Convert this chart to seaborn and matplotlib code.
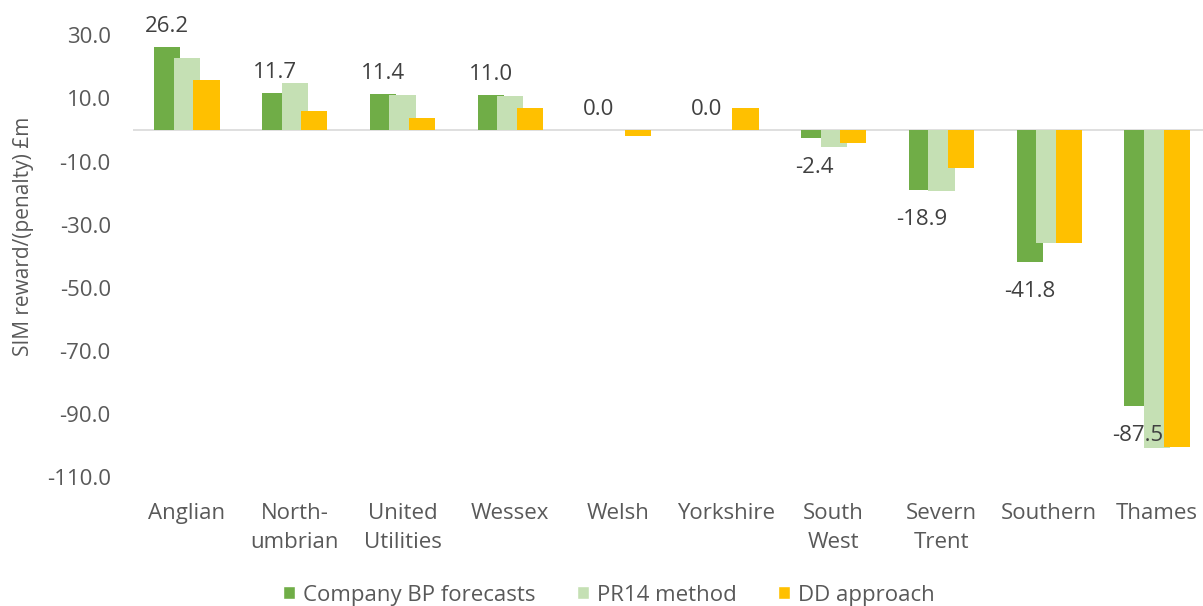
import numpy as np
import pandas as pd
import matplotlib
matplotlib.use("Agg")
import matplotlib.pyplot as plt
import seaborn as sns

# --- data ---
companies = ["Anglian", "North-\numbrian", "United\nUtilities", "Wessex", "Welsh",
             "Yorkshire", "South\nWest", "Severn\nTrent", "Southern", "Thames"]
company_bp = [26.2, 11.7, 11.4, 11.0, 0.0, 0.0, -2.4, -18.9, -41.8, -87.5]
pr14_method = [22.9, 15.0, 11.0, 10.7, 0.0, 0.0, -5.4, -19.5, -35.7, -100.9]
dd_approach = [15.9, 6.0, 3.8, 7.1, -1.8, 7.1, -4.0, -11.9, -35.7, -100.6]
series_names = ["Company BP forecasts", "PR14 method", "DD approach"]
colors = ["#70AD47", "#C5E0B4", "#FFC000"]
y_ticks = np.arange(-110, 31, 20)

df = pd.DataFrame({
    "company": companies * 3,
    "series": np.repeat(series_names, len(companies)),
    "value": company_bp + pr14_method + dd_approach,
})

sns.set_theme(style="white")
plt.rcParams["font.family"] = ["Open Sans", "DejaVu Sans"]
text_grey = "#595959"

fig = plt.figure(figsize=(12.03, 6.06), dpi=100)
ax = fig.add_axes([133 / 1203, 0.2129, 1078 / 1203, 0.7288])

sns.barplot(data=df, x="company", y="value", hue="series", palette=colors,
            saturation=1, width=0.546, ax=ax, errorbar=None)

# Excel-style overlapping bars: widen each bar around its centre
new_w = 0.243
for cont in ax.containers:
    for p in cont.patches:
        cx = p.get_x() + p.get_width() / 2
        p.set_width(new_w)
        p.set_x(cx - new_w / 2)
        p.set_linewidth(0)

ax.set_xlim(-0.5, 9.5)
ax.set_ylim(-110, 30)
ax.set_yticks(y_ticks)
ax.set_yticklabels([f"{v:.1f}" for v in y_ticks])
ax.axhline(0, color="#D9D9D9", lw=1.2, zorder=0)
sns.despine(ax=ax, left=True, bottom=True)
ax.tick_params(axis="both", length=0, labelsize=16, colors=text_grey)
ax.tick_params(axis="y", pad=16)
ax.tick_params(axis="x", pad=19)
for t in ax.get_xticklabels():
    t.set_linespacing(1.5)
ax.set_xlabel("")
ax.set_ylabel("SIM reward/(penalty) £m", fontsize=15, color=text_grey)
ax.yaxis.set_label_coords(-0.092, 0.5456)

# data labels on the company series only
for i, v in enumerate(company_bp):
    x = i - 0.182
    if v >= 0:
        off = 15
    else:
        off = -35
    ax.annotate(f"{v:.1f}", (x, v), xytext=(0, off), textcoords="offset pixels",
                ha="center", va="baseline", fontsize=16, color="#404040")

sns.move_legend(ax, "center", bbox_to_anchor=(0.506, 0.018),
                bbox_transform=fig.transFigure, ncol=3, frameon=False, title=None,
                fontsize=16, handlelength=0.55, handleheight=0.55, handletextpad=0.35,
                columnspacing=1.85, borderpad=0.1)
for t in ax.get_legend().get_texts():
    t.set_color(text_grey)

fig.savefig("out.png", dpi=100)
